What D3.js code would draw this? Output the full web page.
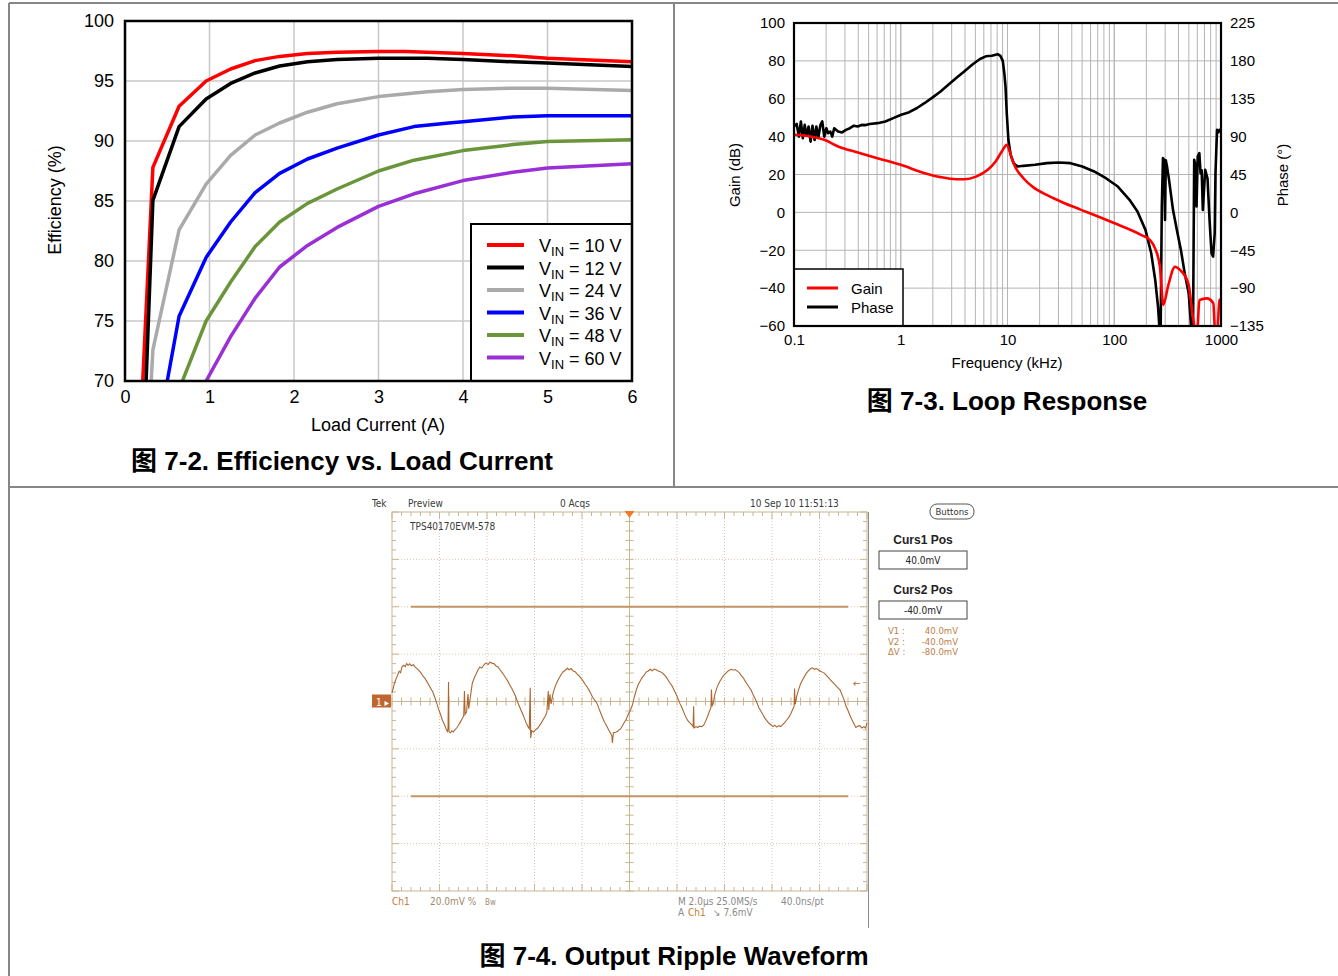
<!DOCTYPE html>
<html>
<head>
<meta charset="utf-8">
<title>TPS40170 typical characteristics</title>
<script src="https://cdn.jsdelivr.net/npm/d3@7"></script>
<style>
  body { margin: 0; background: #fff; }
  svg text { font-family: "Liberation Sans", Arial, sans-serif; fill: #000; }
  .cap { font-weight: bold; font-size: 26px; font-family: "Liberation Sans", "Noto Sans CJK SC", sans-serif; }
  .grid line { stroke: #c8c8c8; stroke-width: 1.5; }
  .grid2 line { stroke: #b4b4b4; stroke-width: 1; }
  .scope text { font-family: "Liberation Sans Narrow", "DejaVu Sans Condensed", sans-serif; font-size: 10px; }
</style>
</head>
<body>
<svg id="page" width="1338" height="976"></svg>
<script>
// ---- efficiency vs load current (x = A, y = %) ----
var vinNames = ["10", "12", "24", "36", "48", "60"];
var vinColors = ["#ff0000", "#000000", "#aaaaaa", "#0000ff", "#6b953a", "#9a2fd6"];
var vin10 = [[0.21,70],[0.33,87.8],[0.64,92.9],[0.96,95.0],[1.25,96.0],[1.54,96.7],[1.83,97.05],[2.16,97.3],[2.51,97.4],[3.0,97.45],[3.32,97.45],[4.0,97.3],[4.59,97.1],[5.0,96.9],[6.0,96.6]];
var vin12 = [[0.25,70],[0.33,85.05],[0.64,91.2],[0.96,93.5],[1.25,94.8],[1.54,95.67],[1.83,96.25],[2.16,96.6],[2.51,96.8],[3.0,96.9],[3.58,96.9],[4.0,96.8],[4.59,96.6],[5.0,96.5],[6.0,96.2]];
var vin24 = [[0.31,70],[0.33,72.6],[0.64,82.6],[0.96,86.4],[1.25,88.8],[1.54,90.5],[1.83,91.5],[2.16,92.4],[2.51,93.1],[3.0,93.7],[3.58,94.1],[4.0,94.3],[4.59,94.4],[5.0,94.4],[6.0,94.2]];
var vin36 = [[0.5,70],[0.64,75.4],[0.96,80.3],[1.25,83.25],[1.54,85.7],[1.83,87.3],[2.16,88.5],[2.51,89.4],[3.0,90.5],[3.42,91.2],[3.83,91.5],[4.0,91.6],[4.59,92.0],[5.0,92.1],[6.0,92.1]];
var vin48 = [[0.68,70],[0.96,75.0],[1.25,78.25],[1.54,81.2],[1.83,83.25],[2.16,84.8],[2.51,86.0],[3.0,87.5],[3.42,88.4],[4.0,89.2],[4.59,89.7],[5.0,89.95],[6.0,90.1]];
var vin60 = [[0.96,70],[1.25,73.7],[1.54,76.9],[1.83,79.5],[2.16,81.3],[2.51,82.8],[3.0,84.55],[3.42,85.6],[4.0,86.7],[4.59,87.4],[5.0,87.75],[6.0,88.1]];
var effTicksX = [0, 1, 2, 3, 4, 5, 6];
var effTicksY = [70, 75, 80, 85, 90, 95, 100];

// ---- loop response (x = kHz, gain dB left, phase deg right) ----
var gainFreq = [0.1,0.143,0.192,0.259,0.396,0.605,1.0,1.68,2.36,3.31,3.93,5.07,6.53,7.74,9.03,9.84,10.7,11.4,14.1,17.5,23.3,33.3,47.7,98,180,216,241,268,288,321,371,413,494,551,575,600,627,735,848,879,925,966,1000];
var gainDb = [41,40.1,38.3,34.8,31.6,28.6,25.1,20.7,18.6,17.5,17.5,18.9,22.5,26.9,33.0,35.7,30.5,25.9,18.0,13.2,9.2,5.1,1.6,-5.5,-12.0,-14.6,-19.0,-28.7,-48.9,-38.4,-28.7,-30.4,-37.5,-56.8,-62,-62,-46.3,-45.4,-48.0,-62,-62,-46.3,-46];
var phaseFreq = [0.1,0.106,0.111,0.116,0.121,0.126,0.131,0.137,0.143,0.149,0.156,0.162,0.169,0.177,0.184,0.192,0.201,0.209,0.219,0.228,0.238,0.259,0.282,0.307,0.334,0.364,0.396,0.431,0.470,0.512,0.605,0.718,0.851,1.01,1.20,1.42,1.68,1.99,2.36,2.79,3.31,3.93,4.66,5.52,6.27,7.12,8.09,8.58,9.03,9.34,9.58,9.84,10.2,10.7,11.4,12.4,14.1,18.1,23.4,30.2,38.9,50.2,64.8,83.6,108,139,165,196,222,242,257,266,272,279,286,294,299,304,312,326,355,386,421,457,498,528,547,561,581,590,605,627,643,659,676,711,748,781,815,843,873,888,918,942,966,1000];
var phaseDeg = [102,105,90,108,88,104,91,102,84,103,86,102,89,104,108,90,100,94,96,90,100,96,95,98,100,103,102,104,103.7,105,106,108,112,116,119,124,130,136.6,143.7,151.6,159.6,167.5,175.4,182.2,185.4,186.1,188,186,180,165,149.7,118,86,68.4,58.5,54.5,55.3,56.5,58.5,59.3,58.5,54.5,48.6,40.6,30.7,14.9,1,-20.8,-48.6,-80.3,-112,-140,-140,7,64.4,62.4,-9,62,54.5,38.6,3,-20.8,-44.6,-72.4,-96,-140,-140,62.4,54,7,66.4,70.4,46.6,50,3,50.5,40,-9,-48.6,-52.5,-24.8,46.6,98,95,98,96];
var freqTicks = [0.1, 1, 10, 100, 1000];
var freqLabels = ["0.1", "1", "10", "100", "1000"];
var gainTicks = [-60, -40, -20, 0, 20, 40, 60, 80, 100];
var phaseTicks = [-135, -90, -45, 0, 45, 90, 135, 180, 225];

// ---- output ripple: [time us, mV], 2 us/div, 20 mV/div ----
var ripple = [[0,3.7],[0.1,7.5],[0.18,9.8],[0.22,10.7],[0.3,12.8],[0.36,12.2],[0.42,14.6],[0.5,15.3],[0.56,14.7],[0.62,16.0],[0.68,15.2],[0.74,15.9],[0.82,15.1],[0.9,15.5],[0.97,14.6],[1.05,13.9],[1.12,13.2],[1.22,12.1],[1.3,10.8],[1.38,9.9],[1.47,8.4],[1.55,7.0],[1.63,5.6],[1.71,4.2],[1.8,1.8],[1.88,-0.6],[1.96,-3.2],[2.05,-5.6],[2.12,-7.9],[2.2,-9.5],[2.28,-11.6],[2.33,-12.6],[2.36,-11.5],[2.38,8.2],[2.40,-12.8],[2.46,-13.2],[2.52,-12.4],[2.58,-12.9],[2.63,-12.2],[2.72,-11.2],[2.8,-10.0],[2.88,-8.6],[2.96,-7.2],[3.02,-6.0],[3.05,4.4],[3.08,-5.4],[3.14,-4.4],[3.2,3.2],[3.23,-3.0],[3.3,2.0],[3.38,7.6],
  [3.45,9.6],[3.55,11.8],[3.63,13.5],[3.7,14.6],[3.78,14.1],[3.88,15.6],[3.95,16.2],[4.05,15.6],[4.12,16.6],[4.21,16.2],[4.3,15.9],[4.38,15.0],[4.46,14.6],[4.55,13.4],[4.63,12.3],[4.71,11.2],[4.8,9.8],[4.88,8.5],[4.96,7.0],[5.05,5.4],[5.13,3.8],[5.21,2.0],[5.3,-0.5],[5.38,-2.4],[5.46,-4.3],[5.55,-6.4],[5.63,-8.6],[5.71,-10.3],[5.78,-11.5],[5.82,5.8],[5.84,-15.4],[5.88,-12.3],[5.96,-12.9],[6.04,-12.0],[6.12,-11.4],[6.21,-10.2],[6.3,-8.8],[6.38,-7.4],[6.46,-6.0],[6.52,-4.6],[6.58,4.4],[6.6,-3.6],[6.65,3.0],[6.7,-1.0],[6.78,3.4],[6.88,6.6],
  [6.96,8.4],[7.05,10.1],[7.13,11.5],[7.22,12.7],[7.3,13.2],[7.38,14.0],[7.46,13.4],[7.54,13.9],[7.63,12.9],[7.71,12.6],[7.8,11.6],[7.88,10.8],[7.96,9.8],[8.05,8.6],[8.13,7.3],[8.21,6.2],[8.29,4.9],[8.38,3.2],[8.46,1.6],[8.55,0.4],[8.63,-0.8],[8.71,-2.9],[8.8,-5.2],[8.87,-7.0],[8.95,-8.8],[9.04,-10.3],[9.12,-11.9],[9.2,-13.4],[9.26,-14.6],[9.28,-17.5],[9.32,-13.2],[9.42,-13.0],[9.5,-12.6],[9.56,-12.0],[9.62,-11.6],[9.7,-10.2],[9.78,-8.9],[9.87,-7.4],[9.95,-5.4],[10.04,-3.6],[10.12,-1.6],[10.2,1.8],[10.29,5.0],
  [10.37,7.2],[10.46,8.9],[10.54,10.2],[10.62,11.1],[10.7,12.4],[10.79,12.9],[10.87,13.6],[10.95,13.0],[11.04,13.7],[11.12,13.4],[11.2,13.0],[11.29,12.6],[11.37,12.2],[11.45,11.4],[11.54,10.4],[11.62,9.2],[11.7,7.9],[11.79,6.6],[11.87,5.0],[11.95,3.4],[12.04,1.2],[12.12,-0.8],[12.2,-2.4],[12.29,-4.6],[12.37,-6.6],[12.45,-8.0],[12.54,-9.0],[12.62,-9.8],[12.68,-10.6],[12.70,-2.0],[12.72,-11.2],[12.8,-10.6],[12.87,-11.0],[12.95,-10.4],[13.04,-10.6],[13.12,-10.0],[13.2,-8.4],[13.29,-6.2],[13.37,-4.0],[13.43,-2.6],[13.45,5.1],[13.48,-2.0],[13.52,-0.8],[13.6,3.2],[13.7,6.4],
  [13.79,8.2],[13.87,9.6],[13.95,10.8],[14.04,11.8],[14.12,12.6],[14.2,13.2],[14.29,13.6],[14.37,13.2],[14.45,13.5],[14.54,12.8],[14.62,12.2],[14.7,11.0],[14.79,10.0],[14.87,8.6],[14.95,7.4],[15.04,6.0],[15.12,4.8],[15.2,3.0],[15.29,1.2],[15.37,-0.6],[15.45,-2.6],[15.54,-4.2],[15.62,-5.6],[15.7,-7.0],[15.79,-8.2],[15.87,-9.2],[15.95,-9.8],[16.04,-10.6],[16.12,-10.0],[16.2,-10.8],[16.29,-10.2],[16.37,-10.6],[16.45,-9.8],[16.54,-8.8],[16.62,-7.8],[16.7,-6.8],[16.79,-5.2],[16.87,-3.4],[16.93,-2.2],[16.95,5.5],[16.98,-1.2],[17.04,2.2],[17.12,5.0],
  [17.2,7.4],[17.29,9.2],[17.37,10.6],[17.45,12.0],[17.54,13.0],[17.62,13.8],[17.7,14.2],[17.79,13.6],[17.87,13.9],[17.95,13.4],[18.04,12.8],[18.12,12.4],[18.2,12.0],[18.29,11.0],[18.37,10.2],[18.45,9.2],[18.53,8.4],[18.62,7.4],[18.7,6.6],[18.79,5.6],[18.87,4.8],[18.95,2.8],[19.04,0.6],[19.11,-1.8],[19.2,-3.8],[19.28,-5.8],[19.36,-7.6],[19.45,-9.4],[19.53,-11.0],[19.62,-10.4],[19.7,-10.2],[19.78,-11.2],[19.87,-10.6],[19.94,-11.2],[20,-9.0]];
var cursorLevels = [40, -40];

var svg = d3.select("#page");
svg.append("rect").attr("width", 1338).attr("height", 976).attr("fill", "#fff");

// panel frame
var frame = [[9,3,1338,3],[9,3,9,976],[674,3,674,487],[9,487,1338,487]];
svg.selectAll(".frame").data(frame).enter().append("line")
  .attr("x1", function(d){ return d[0]; }).attr("y1", function(d){ return d[1]; })
  .attr("x2", function(d){ return d[2]; }).attr("y2", function(d){ return d[3]; })
  .attr("stroke", "#868686").attr("stroke-width", 2);

// ================= efficiency chart =================
var ex = d3.scaleLinear().domain([0, 6]).range([125, 632]);
var ey = d3.scaleLinear().domain([70, 100]).range([381, 21]);

var eg = svg.append("g");
eg.append("g").attr("class", "grid").selectAll("line").data(effTicksX.slice(1, -1)).enter().append("line")
  .attr("x1", ex).attr("x2", ex).attr("y1", ey(70)).attr("y2", ey(100));
eg.append("g").attr("class", "grid").selectAll("line").data(effTicksY.slice(1, -1)).enter().append("line")
  .attr("x1", ex(0)).attr("x2", ex(6)).attr("y1", ey).attr("y2", ey);

svg.append("clipPath").attr("id", "effclip").append("rect")
  .attr("x", ex(0)).attr("y", ey(100)).attr("width", ex(6) - ex(0)).attr("height", ey(70) - ey(100));

var effLine = d3.line().x(function(d){ return ex(d[0]); }).y(function(d){ return ey(d[1]); });
var effSeries = [vin10, vin12, vin24, vin36, vin48, vin60];
eg.append("g").attr("clip-path", "url(#effclip)").selectAll("path").data(effSeries).enter().append("path")
  .attr("d", effLine).attr("fill", "none").attr("stroke-linejoin", "round")
  .attr("stroke", function(d, i){ return vinColors[i]; }).attr("stroke-width", 3.5);

eg.append("g").attr("transform", "translate(0," + ey(70) + ")")
  .call(d3.axisBottom(ex).tickValues(effTicksX).tickSize(0).tickPadding(9).tickFormat(d3.format("d")))
  .call(function(g){ g.select(".domain").remove(); g.selectAll("text").attr("font-size", 18).attr("font-family", null); });
eg.append("g").attr("transform", "translate(" + ex(0) + ",0)")
  .call(d3.axisLeft(ey).tickValues(effTicksY).tickSize(0).tickPadding(11).tickFormat(d3.format("d")))
  .call(function(g){ g.select(".domain").remove(); g.selectAll("text").attr("font-size", 18).attr("font-family", null); });

// legend
eg.append("rect").attr("x", 471).attr("y", 224).attr("width", 161).attr("height", 157)
  .attr("fill", "#fff").attr("stroke", "#000").attr("stroke-width", 2);
var leg = eg.selectAll(".leg").data(vinNames).enter().append("g")
  .attr("transform", function(d, i){ return "translate(0," + (245 + i * 22.5) + ")"; });
leg.append("line").attr("x1", 487).attr("x2", 524).attr("y1", 0).attr("y2", 0)
  .attr("stroke", function(d, i){ return vinColors[i]; }).attr("stroke-width", 4);
var lt = leg.append("text").attr("x", 539).attr("y", 7).attr("font-size", 18);
lt.append("tspan").text("V");
lt.append("tspan").attr("font-size", 13).attr("dy", 4).text("IN");
lt.append("tspan").attr("dy", -4).text(function(d){ return " = " + d + " V"; });

eg.append("rect").attr("x", ex(0)).attr("y", ey(100)).attr("width", ex(6) - ex(0)).attr("height", ey(70) - ey(100))
  .attr("fill", "none").attr("stroke", "#000").attr("stroke-width", 2.5);

eg.append("text").attr("x", 378).attr("y", 431).attr("text-anchor", "middle").attr("font-size", 18).text("Load Current (A)");
eg.append("text").attr("transform", "translate(61,200) rotate(-90)").attr("text-anchor", "middle").attr("font-size", 18).text("Efficiency (%)");
eg.append("text").attr("class", "cap").attr("x", 342).attr("y", 470).attr("text-anchor", "middle").text("图 7-2. Efficiency vs. Load Current");

// ================= loop response chart =================
var fx = d3.scaleLog().domain([0.1, 1000]).range([794, 1221]);
var gy = d3.scaleLinear().domain([-60, 100]).range([326, 23]);
var py = d3.scaleLinear().domain([-135, 225]).range([326, 23]);

var lg = svg.append("g");
var minorF = [];
[0.1, 1, 10, 100].forEach(function(dec){ for (var k = 1; k <= 10; k++) minorF.push(dec * k); });
lg.append("g").attr("class", "grid2").selectAll("line").data(minorF).enter().append("line")
  .attr("x1", fx).attr("x2", fx).attr("y1", gy(-60)).attr("y2", gy(100));
lg.append("g").attr("class", "grid2").selectAll("line").data(gainTicks).enter().append("line")
  .attr("x1", fx(0.1)).attr("x2", fx(1000)).attr("y1", gy).attr("y2", gy);

svg.append("clipPath").attr("id", "loopclip").append("rect")
  .attr("x", fx(0.1)).attr("y", gy(100)).attr("width", fx(1000) - fx(0.1)).attr("height", gy(-60) - gy(100));

var gainLine = d3.line().x(function(d, i){ return fx(gainFreq[i]); }).y(function(d){ return gy(d); }).curve(d3.curveMonotoneX);
var phaseLine = d3.line().x(function(d, i){ return fx(phaseFreq[i]); }).y(function(d){ return py(d); });
var lc = lg.append("g").attr("clip-path", "url(#loopclip)");
lc.append("path").attr("d", phaseLine(phaseDeg)).attr("fill", "none").attr("stroke", "#000").attr("stroke-width", 2.6).attr("stroke-linejoin", "round");
lc.append("path").attr("d", gainLine(gainDb)).attr("fill", "none").attr("stroke", "#ff0000").attr("stroke-width", 2.6).attr("stroke-linejoin", "round");

var minusFmt = function(d){ return d < 0 ? "\u2212" + Math.abs(d) : String(d); };
lg.append("g").attr("transform", "translate(0," + gy(-60) + ")")
  .call(d3.axisBottom(fx).tickValues(freqTicks).tickSize(0).tickPadding(8).tickFormat(function(d, i){ return freqLabels[i]; }))
  .call(function(g){ g.select(".domain").remove(); g.selectAll("text").attr("font-size", 15).attr("font-family", null); });
lg.append("g").attr("transform", "translate(" + fx(0.1) + ",0)")
  .call(d3.axisLeft(gy).tickValues(gainTicks).tickSize(0).tickPadding(9).tickFormat(minusFmt))
  .call(function(g){ g.select(".domain").remove(); g.selectAll("text").attr("font-size", 15).attr("font-family", null); });
lg.append("g").attr("transform", "translate(" + fx(1000) + ",0)")
  .call(d3.axisRight(py).tickValues(phaseTicks).tickSize(0).tickPadding(9).tickFormat(minusFmt))
  .call(function(g){ g.select(".domain").remove(); g.selectAll("text").attr("font-size", 15).attr("font-family", null); });

lg.append("rect").attr("x", 794).attr("y", 269).attr("width", 109).attr("height", 57)
  .attr("fill", "#fff").attr("stroke", "#000").attr("stroke-width", 1.5);
var lg2 = lg.selectAll(".leg2").data([["Gain", "#ff0000"], ["Phase", "#000"]]).enter().append("g")
  .attr("transform", function(d, i){ return "translate(0," + (288 + i * 19) + ")"; });
lg2.append("line").attr("x1", 807).attr("x2", 838).attr("stroke", function(d){ return d[1]; }).attr("stroke-width", 3);
lg2.append("text").attr("x", 851).attr("y", 6).attr("font-size", 15).text(function(d){ return d[0]; });

lg.append("rect").attr("x", fx(0.1)).attr("y", gy(100)).attr("width", fx(1000) - fx(0.1)).attr("height", gy(-60) - gy(100))
  .attr("fill", "none").attr("stroke", "#000").attr("stroke-width", 2.2);

lg.append("text").attr("x", 1007).attr("y", 368).attr("text-anchor", "middle").attr("font-size", 15).text("Frequency (kHz)");
lg.append("text").attr("transform", "translate(740,175) rotate(-90)").attr("text-anchor", "middle").attr("font-size", 15).text("Gain (dB)");
lg.append("text").attr("transform", "translate(1288,175) rotate(-90)").attr("text-anchor", "middle").attr("font-size", 15).text("Phase (°)");
lg.append("text").attr("class", "cap").attr("x", 1007).attr("y", 410).attr("text-anchor", "middle").text("图 7-3. Loop Response");

// ================= oscilloscope capture =================
var tx = d3.scaleLinear().domain([0, 20]).range([392, 867]);
var vy = d3.scaleLinear().domain([-80, 80]).range([891, 512]);
var tan = "#c9b592", dot = "#d6c7ab", brown = "#ab6630";
var sc = svg.append("g").attr("class", "scope");

var divT = d3.range(2, 20, 2).filter(function(d){ return d !== 10; });
var divV = d3.range(-60, 80, 20).filter(function(d){ return d !== 0; });
sc.selectAll(".dv").data(divT).enter().append("line")
  .attr("x1", tx).attr("x2", tx).attr("y1", vy(80)).attr("y2", vy(-80))
  .attr("stroke", dot).attr("stroke-width", 1).attr("stroke-dasharray", "1,2");
sc.selectAll(".dh").data(divV).enter().append("line")
  .attr("x1", tx(0)).attr("x2", tx(20)).attr("y1", vy).attr("y2", vy)
  .attr("stroke", dot).attr("stroke-width", 1).attr("stroke-dasharray", "1,2");

sc.append("line").attr("x1", tx(10)).attr("x2", tx(10)).attr("y1", vy(80)).attr("y2", vy(-80)).attr("stroke", tan);
sc.append("line").attr("x1", tx(0)).attr("x2", tx(20)).attr("y1", vy(0)).attr("y2", vy(0)).attr("stroke", tan);
sc.append("rect").attr("x", tx(0)).attr("y", vy(80)).attr("width", tx(20) - tx(0)).attr("height", vy(-80) - vy(80))
  .attr("fill", "none").attr("stroke", tan);

var minorT = d3.range(0, 20.01, 0.4), minorV = d3.range(-80, 80.01, 4);
var isMajorT = function(d){ return Math.abs(d / 2 - Math.round(d / 2)) < 1e-6; };
var isMajorV = function(d){ return Math.abs(d / 20 - Math.round(d / 20)) < 1e-6; };
sc.selectAll(".tt").data(minorT).enter().append("line")
  .attr("x1", tx).attr("x2", tx).attr("y1", vy(80)).attr("y2", function(d){ return vy(80) + (isMajorT(d) ? 7 : 4); }).attr("stroke", tan);
sc.selectAll(".tb").data(minorT).enter().append("line")
  .attr("x1", tx).attr("x2", tx).attr("y1", vy(-80)).attr("y2", function(d){ return vy(-80) - (isMajorT(d) ? 7 : 4); }).attr("stroke", tan);
sc.selectAll(".tc").data(minorT).enter().append("line")
  .attr("x1", tx).attr("x2", tx).attr("y1", vy(0) - 4).attr("y2", vy(0) + 4).attr("stroke", tan);
sc.selectAll(".vl").data(minorV).enter().append("line")
  .attr("x1", tx(0)).attr("x2", function(d){ return tx(0) + (isMajorV(d) ? 7 : 4); }).attr("y1", vy).attr("y2", vy).attr("stroke", tan);
sc.selectAll(".vr").data(minorV).enter().append("line")
  .attr("x1", tx(20)).attr("x2", function(d){ return tx(20) - (isMajorV(d) ? 7 : 4); }).attr("y1", vy).attr("y2", vy).attr("stroke", tan);
sc.selectAll(".vc").data(minorV).enter().append("line")
  .attr("x1", tx(10) - 4).attr("x2", tx(10) + 4).attr("y1", vy).attr("y2", vy).attr("stroke", tan);

// cursors
sc.selectAll(".cur").data(cursorLevels).enter().append("line")
  .attr("x1", tx(0.8)).attr("x2", tx(19.2)).attr("y1", vy).attr("y2", vy)
  .attr("stroke", "#c49468").attr("stroke-width", 2);

// ripple trace
var ripLine = d3.line().x(function(d){ return tx(d[0]); }).y(function(d){ return vy(d[1]); });
sc.append("path").attr("d", ripLine(ripple)).attr("fill", "none").attr("stroke", brown).attr("stroke-width", 1.1);

// screen edge
sc.append("line").attr("x1", 868.5).attr("x2", 868.5).attr("y1", 512).attr("y2", 928).attr("stroke", "#8c8c8c");

// markers
sc.append("path").attr("d", "M" + (tx(10) - 5) + "," + (vy(80) - 1) + "h10l-5,7z").attr("fill", "#f07a2c");
sc.append("rect").attr("x", 372).attr("y", vy(0) - 7).attr("width", 19).attr("height", 13).attr("fill", "#bf6630");
sc.append("text").attr("x", 376).attr("y", vy(0) + 4).style("fill", "#fff").text("1 ▸");
sc.append("text").attr("x", 853).attr("y", vy(8) + 4).style("fill", brown).text("←");

// header / footer texts
var hdr = [["Tek", 372], ["Preview", 408], ["0 Acqs", 560], ["10 Sep 10 11:51:13", 750]];
sc.selectAll(".hdr").data(hdr).enter().append("text")
  .attr("x", function(d){ return d[1]; }).attr("y", 507).style("fill", "#3a3a3a").text(function(d){ return d[0]; });
sc.append("text").attr("x", 410).attr("y", 530).style("fill", "#3a3a3a").text("TPS40170EVM-578");

sc.append("text").attr("x", 392).attr("y", 905).style("fill", "#c47b3c").text("Ch1");
sc.append("text").attr("x", 430).attr("y", 905).style("fill", "#a08a6c").text("20.0mV  %  ");
sc.append("text").attr("x", 485).attr("y", 905).style("fill", "#a08a6c").style("font-size", "8px").text("Bw");
sc.append("text").attr("x", 678).attr("y", 905).style("fill", "#8a8a8a").text("M 2.0µs 25.0MS/s");
sc.append("text").attr("x", 781).attr("y", 905).style("fill", "#8a8a8a").text("40.0ns/pt");
sc.append("text").attr("x", 678).attr("y", 916).style("fill", "#8a8a8a").text("A");
sc.append("text").attr("x", 688).attr("y", 916).style("fill", "#c47b3c").text("Ch1");
sc.append("text").attr("x", 713).attr("y", 916).style("fill", "#8a8a8a").text("↘  7.6mV");

// side panel
sc.append("rect").attr("x", 930).attr("y", 504).attr("width", 44).attr("height", 15).attr("rx", 7)
  .attr("fill", "none").attr("stroke", "#555");
sc.append("text").attr("x", 952).attr("y", 515).attr("text-anchor", "middle").style("font-size", "9.5px").style("fill", "#333").text("Buttons");
var curs = [["Curs1 Pos", "40.0mV", 544], ["Curs2 Pos", "-40.0mV", 594]];
var cg = sc.selectAll(".curs").data(curs).enter().append("g");
cg.append("text").attr("x", 923).attr("y", function(d){ return d[2]; }).attr("text-anchor", "middle")
  .style("font-size", "12px").style("font-weight", "bold").style("font-family", "Liberation Sans, sans-serif").style("fill", "#222").text(function(d){ return d[0]; });
cg.append("rect").attr("x", 879).attr("y", function(d){ return d[2] + 7; }).attr("width", 88).attr("height", 18)
  .attr("fill", "#fff").attr("stroke", "#444");
cg.append("text").attr("x", 923).attr("y", function(d){ return d[2] + 20; }).attr("text-anchor", "middle").style("fill", "#222").text(function(d){ return d[1]; });
var readout = [["V1 :", "40.0mV"], ["V2 :", "-40.0mV"], ["ΔV :", "-80.0mV"]];
var rg = sc.selectAll(".ro").data(readout).enter().append("g")
  .attr("transform", function(d, i){ return "translate(0," + (634 + i * 10.5) + ")"; });
rg.append("text").attr("x", 888).style("fill", "#c08048").style("font-size", "9.5px").text(function(d){ return d[0]; });
rg.append("text").attr("x", 958).attr("text-anchor", "end").style("fill", "#c08048").style("font-size", "9.5px").text(function(d){ return d[1]; });

svg.append("text").attr("class", "cap").attr("x", 674).attr("y", 965).attr("text-anchor", "middle").text("图 7-4. Output Ripple Waveform");
</script>
</body>
</html>
